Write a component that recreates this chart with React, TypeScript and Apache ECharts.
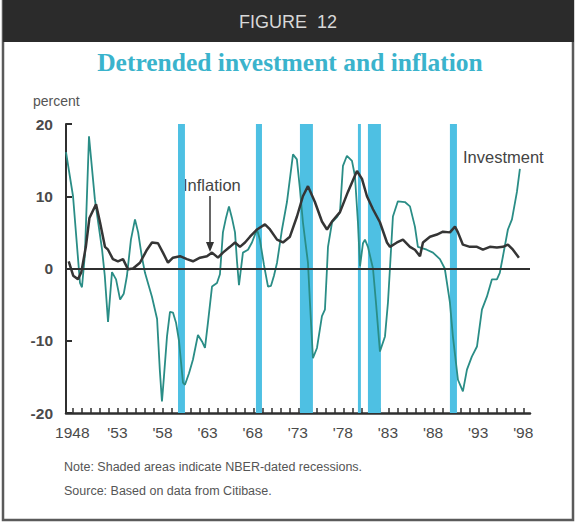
import React, { useEffect, useRef } from "react";
import * as echarts from "echarts";

// Investment (detrended, percent): [year, value]
const investmentYears = [
  1948.0, 1948.78, 1949.55, 1949.77, 1950.1, 1950.55, 1951.2, 1952.0, 1952.3, 1952.66,
  1953.1, 1953.55, 1954.0, 1954.4, 1954.76, 1955.2, 1955.65, 1956.0, 1956.4, 1956.76,
  1957.2, 1957.53, 1958.1, 1958.4, 1958.64, 1958.86, 1959.2, 1959.53, 1959.86, 1960.2,
  1960.53, 1960.97, 1961.19, 1961.64, 1962.08, 1962.63, 1963.08, 1963.41, 1963.74, 1964.19,
  1964.74, 1965.07, 1965.4, 1965.74, 1966.07, 1966.4, 1966.74, 1966.96, 1967.18, 1967.62,
  1968.18, 1968.62, 1969.18, 1969.5, 1969.95, 1970.4, 1970.73, 1971.06, 1971.4, 1971.95,
  1972.5, 1973.17, 1973.6, 1973.94, 1974.27, 1974.83, 1975.05, 1975.38, 1975.83, 1976.38,
  1976.71, 1976.94, 1977.05, 1977.5, 1978.04, 1978.38, 1978.71, 1979.15, 1979.71, 1980.04,
  1980.37, 1980.6, 1980.93, 1981.15, 1981.48, 1982.04, 1982.37, 1982.81, 1983.37, 1983.7,
  1983.92, 1984.25, 1984.8, 1985.58, 1986.14, 1986.69, 1987.02, 1988.0, 1988.69, 1989.46,
  1990.0, 1990.57, 1990.9, 1991.46, 1992.01, 1992.46, 1993.0, 1993.57, 1994.12, 1994.67,
  1995.23, 1995.78, 1996.1, 1996.45, 1997.0, 1997.45, 1998.0, 1998.33,
];
const investmentValues = [
  16.1, 10, -2, -2.6, 2, 18.3, 9.6, 2.6, -1, -7.4,
  -0.5, -1.5, -4.3, -3.5, -1, 4, 6.8, 5, 1.7, -0.6,
  -2.5, -3.9, -7, -14, -18.4, -15, -9.4, -6, -6.1, -7.5,
  -10, -15.8, -16.1, -14.5, -12.6, -9.2, -10.1, -11, -7.5, -2.5,
  -2, -0.8, 5, 7, 8.6, 7, 5, 1, -2.3, 2.2,
  2.6, 3.6, 5.4, 4, 0.5, -2.5, -2.4, -1, 0.8, 5.4,
  9.2, 15.8, 15.1, 11, 6.4, 0.8, -4.7, -12.4, -11, -6.6,
  -5.7, 0, 3, 6.4, 7.1, 7.8, 14.2, 15.6, 14.9, 12.8,
  6.4, 0.3, 3.5, 4, 3, 0, -4.7, -11.5, -9.4, -4.7,
  0, 7.2, 9.3, 9.2, 8.6, 5.8, 3, 2.6, 2.2, 1.3,
  0, -4.7, -9.4, -15.4, -17, -14, -12.2, -10.8, -5.7, -3.9,
  -1.5, -1.5, -0.6, 1.7, 5.4, 6.8, 10.6, 13.8,
];

// Inflation (detrended, percent): [year, value]
const inflationYears = [
  1948.3, 1948.8, 1949.33, 1949.7, 1950.2, 1950.6, 1951.33, 1951.77, 1952.32, 1952.66,
  1953.2, 1953.76, 1954.32, 1954.87, 1955.43, 1956.2, 1956.98, 1957.53, 1958.2, 1958.75,
  1959.31, 1959.86, 1960.64, 1961.41, 1962.08, 1962.86, 1963.63, 1964.19, 1964.85, 1965.4,
  1966.18, 1966.74, 1967.29, 1967.85, 1968.4, 1969.18, 1970.06, 1970.62, 1971.4, 1972.06,
  1972.83, 1973.61, 1974.27, 1974.83, 1975.6, 1976.38, 1976.94, 1977.49, 1978.38, 1979.26,
  1980.26, 1980.82, 1981.37, 1982.04, 1982.81, 1983.59, 1983.92, 1984.7, 1985.36, 1986.14,
  1986.69, 1987.25, 1987.58, 1988.36, 1989.13, 1989.8, 1990.57, 1991.13, 1991.46, 1992.01,
  1992.79, 1993.57, 1994.23, 1995.0, 1995.78, 1996.45, 1997.0, 1997.56, 1998.22,
];
const inflationValues = [
  1, -1, -1.5, -0.5, 3, 7, 8.9, 6.4, 3, 2.6,
  1.3, 1, 1.3, -0.1, 0, 0.8, 2.6, 3.6, 3.5, 2.2,
  0.8, 1.5, 1.7, 1.3, 1, 1.5, 1.7, 2.2, 1.5, 2.2,
  3, 3.6, 3, 3.6, 4.4, 5.4, 6.1, 5.4, 4, 3.6,
  4.4, 7.2, 10, 11.4, 9.2, 6.5, 5.4, 6.5, 7.8, 10.6,
  13.5, 12.4, 10, 8.2, 6.4, 3.6, 3, 3.6, 4, 3,
  2.6, 1.7, 3.6, 4.4, 4.7, 5.1, 5, 5.8, 5, 3.3,
  3, 3, 2.6, 3, 2.9, 3, 3.3, 2.6, 1.5,
];

// NBER recessions as drawn (start, end)
const recessionStarts = [1960.42, 1969.06, 1973.94, 1980.37, 1981.48, 1990.57];
const recessionEnds = [1961.19, 1969.73, 1975.38, 1980.7, 1982.92, 1991.35];

// Axis ticks
const yearTicks = Array.from({ length: 51 }, (_, k) => 1948.78 + k);
const yearLabelYears = [1948, 1953, 1958, 1963, 1968, 1973, 1978, 1983, 1988, 1993, 1998];
const yearLabelNames = ["1948", "'53", "'58", "'63", "'68", "'73", "'78", "'83", "'88", "'93", "'98"];
const labelOffset = 0.7;

const SANS = "'Liberation Sans', Arial, sans-serif";

export default function App() {
  const ref = useRef<HTMLDivElement>(null);

  useEffect(() => {
    if (!ref.current) return;
    const chart = echarts.init(ref.current, undefined, { renderer: "svg" });

    const invData = investmentYears.map((y, i) => [y, investmentValues[i]]);
    const infData = inflationYears.map((y, i) => [y, inflationValues[i]]);
    const areas = recessionStarts.map((s, i) => [{ xAxis: s }, { xAxis: recessionEnds[i] }]);
    const labelVals = yearLabelYears.map((y) => y + labelOffset);

    chart.setOption({
      animation: false,
      backgroundColor: "#ffffff",
      grid: { left: 66, right: 47, top: 124, bottom: 111 },
      xAxis: {
        type: "value",
        min: 1948,
        max: 1999.45,
        axisLine: { onZero: false, lineStyle: { color: "#2f2f2f", width: 2.5 } },
        axisTick: {
          inside: true,
          length: 5,
          customValues: yearTicks,
          lineStyle: { color: "#2f2f2f", width: 1.5 },
        },
        axisLabel: {
          customValues: labelVals,
          formatter: (v: number) => {
            const idx = yearLabelYears.indexOf(Math.round(v - labelOffset));
            return idx >= 0 ? yearLabelNames[idx] : "";
          },
          fontSize: 15.5,
          color: "#4a4a4a",
          fontFamily: SANS,
          margin: 11,
        },
        splitLine: { show: false },
      },
      yAxis: {
        type: "value",
        min: -20,
        max: 20,
        interval: 10,
        axisLine: { show: true, lineStyle: { color: "#2f2f2f", width: 2 } },
        axisTick: { show: true, inside: true, length: 6, lineStyle: { color: "#2f2f2f", width: 2 } },
        axisLabel: {
          fontSize: 15.5,
          color: "#4a4a4a",
          fontFamily: SANS,
          fontWeight: "bold",
          margin: 13,
        },
        splitLine: { show: false },
      },
      series: [
        {
          type: "line",
          name: "recessions",
          data: [],
          z: 1,
          silent: true,
          markArea: {
            silent: true,
            itemStyle: { color: "#4ec0e3", opacity: 1 },
            data: areas,
          },
          markLine: {
            silent: true,
            symbol: "none",
            label: { show: false },
            lineStyle: { color: "#2f2f2f", width: 2, type: "solid" },
            data: [{ yAxis: 0 }],
          },
        },
        {
          type: "line",
          name: "Investment",
          data: invData,
          showSymbol: false,
          symbol: "none",
          z: 3,
          lineStyle: { color: "#2a8d86", width: 1.8 },
        },
        {
          type: "line",
          name: "Inflation",
          data: infData,
          showSymbol: false,
          symbol: "none",
          z: 4,
          lineStyle: { color: "#353535", width: 2.5 },
        },
      ],
      graphic: [
        {
          type: "rect",
          shape: { x: 3, y: 1, width: 570, height: 519 },
          style: { fill: "none", stroke: "#5a5a5a", lineWidth: 2.5 },
          silent: true,
        },
        {
          type: "rect",
          shape: { x: 3, y: 0, width: 571, height: 42 },
          style: { fill: "#2b2b2b" },
          silent: true,
        },
        {
          type: "text",
          x: 288,
          y: 22,
          style: {
            text: "FIGURE  12",
            fill: "#d8d8d8",
            font: `18px ${SANS}`,
            align: "center",
            verticalAlign: "middle",
          },
        },
        {
          type: "text",
          x: 290,
          y: 62,
          style: {
            text: "Detrended investment and inflation",
            fill: "#3ab3cc",
            font: "bold 25.5px 'Liberation Serif', 'DejaVu Serif', serif",
            align: "center",
            verticalAlign: "middle",
          },
        },
        {
          type: "text",
          x: 33,
          y: 101,
          style: { text: "percent", fill: "#555", font: `14px ${SANS}`, verticalAlign: "middle" },
        },
        {
          type: "text",
          x: 183,
          y: 185,
          style: { text: "Inflation", fill: "#444", font: `16.5px ${SANS}`, verticalAlign: "middle" },
        },
        {
          type: "line",
          shape: { x1: 210, y1: 196, x2: 210, y2: 244 },
          style: { stroke: "#333", lineWidth: 1.5 },
        },
        {
          type: "polygon",
          shape: { points: [[206, 242], [214, 242], [210, 252]] },
          style: { fill: "#333" },
        },
        {
          type: "text",
          x: 463,
          y: 157,
          style: { text: "Investment", fill: "#444", font: `16.5px ${SANS}`, verticalAlign: "middle" },
        },
        {
          type: "text",
          x: 64,
          y: 467,
          style: {
            text: "Note: Shaded areas indicate NBER-dated recessions.",
            fill: "#555",
            font: `12.5px ${SANS}`,
            verticalAlign: "middle",
          },
        },
        {
          type: "text",
          x: 64,
          y: 491,
          style: {
            text: "Source: Based on data from Citibase.",
            fill: "#555",
            font: `12.5px ${SANS}`,
            verticalAlign: "middle",
          },
        },
      ],
    });

    return () => chart.dispose();
  }, []);

  return (
    <div
      ref={ref}
      style={{ position: "fixed", left: 0, top: 0, width: 577, height: 524, background: "#fff" }}
    />
  );
}
